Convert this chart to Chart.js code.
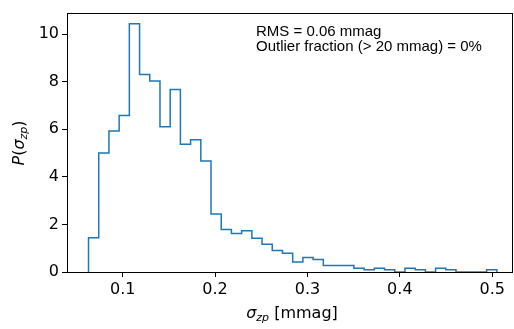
<!DOCTYPE html>
<html>
<head>
<meta charset="utf-8">
<script src="https://cdn.jsdelivr.net/npm/chart.js@4.4.1/dist/chart.umd.min.js"></script>
<style>
  html, body { margin: 0; padding: 0; background: #fff; }
  #wrap { width: 514px; height: 329px; }
</style>
</head>
<body>
<div id="wrap"><canvas id="histChart" width="514" height="329"></canvas></div>
<script>
// histogram of sigma_zp, 40 bins, density normalised
const binStart = 0.063;
const binWidth = 0.01105;
const density = [
  1.44, 5.00, 5.93, 6.58, 10.43, 8.30, 8.03, 6.10, 7.67, 5.37,
  5.56, 4.66, 2.44, 1.79, 1.62, 1.73, 1.42, 1.17, 0.90, 0.79,
  0.42, 0.61, 0.52, 0.27, 0.27, 0.27, 0.16, 0.09, 0.16, 0.09,
  0.00, 0.16, 0.09, 0.00, 0.16, 0.09, 0.00, 0.00, 0.00, 0.09
];
const xTicks = [0.1, 0.2, 0.3, 0.4, 0.5];
const yTicks = [0, 2, 4, 6, 8, 10];
const notes = ['RMS = 0.06 mmag', 'Outlier fraction (> 20 mmag) = 0%'];

// step outline like matplotlib histtype='step'
var points = [{x: binStart, y: 0}];
density.forEach(function(d, i){
    points.push({x: binStart + i * binWidth, y: d});
});
var lastEdge = binStart + density.length * binWidth;
points.push({x: lastEdge, y: density[density.length - 1]});
points.push({x: lastEdge, y: 0});

const tickFont = {family: 'DejaVu Sans', size: 16};

var extras = {
    id: 'extras',
    afterDraw: function(chart){
        var ctx = chart.ctx;
        var a = chart.chartArea;
        ctx.save();
        // frame
        ctx.strokeStyle = '#000';
        ctx.lineWidth = 1;
        ctx.strokeRect(Math.round(a.left) + 0.5, Math.round(a.top) + 0.5,
                       Math.round(a.right - a.left) - 1, Math.round(a.bottom - a.top));
        ctx.fillStyle = '#000';
        // annotation
        ctx.font = '15px "Liberation Sans", Arial, sans-serif';
        ctx.textBaseline = 'alphabetic';
        ctx.textAlign = 'left';
        ctx.fillText(notes[0], 256, 35.5);
        ctx.fillText(notes[1], 256, 51);
        // x title
        var s1 = 'σ', sub = 'zp', rest = ' [mmag]';
        ctx.font = 'italic 16px "DejaVu Sans"';
        var w1 = ctx.measureText(s1).width;
        ctx.font = 'italic 11px "DejaVu Sans"';
        var w2 = ctx.measureText(sub).width;
        ctx.font = '16px "DejaVu Sans"';
        var w3 = ctx.measureText(rest).width;
        var x0 = 292 - (w1 + w2 + w3) / 2;
        var yb = 318;
        ctx.font = 'italic 16px "DejaVu Sans"';
        ctx.fillText(s1, x0, yb);
        ctx.font = 'italic 11px "DejaVu Sans"';
        ctx.fillText(sub, x0 + w1, yb + 3);
        ctx.font = '16px "DejaVu Sans"';
        ctx.fillText(rest, x0 + w1 + w2, yb);
        // y title, rotated
        ctx.translate(24, 143);
        ctx.rotate(-Math.PI / 2);
        var p1 = 'P', p2 = '(', p3 = 'σ', p4 = 'zp', p5 = ')';
        ctx.font = 'italic 16px "DejaVu Sans"';
        var a1 = ctx.measureText(p1).width, a3 = ctx.measureText(p3).width;
        ctx.font = '16px "DejaVu Sans"';
        var a2 = ctx.measureText(p2).width, a5 = ctx.measureText(p5).width;
        ctx.font = 'italic 11px "DejaVu Sans"';
        var a4 = ctx.measureText(p4).width;
        var tx = -(a1 + a2 + a3 + a4 + a5) / 2;
        ctx.font = 'italic 16px "DejaVu Sans"';
        ctx.fillText(p1, tx, 0); tx += a1;
        ctx.font = '16px "DejaVu Sans"';
        ctx.fillText(p2, tx, 0); tx += a2;
        ctx.font = 'italic 16px "DejaVu Sans"';
        ctx.fillText(p3, tx, 0); tx += a3;
        ctx.font = 'italic 11px "DejaVu Sans"';
        ctx.fillText(p4, tx, 3); tx += a4;
        ctx.font = '16px "DejaVu Sans"';
        ctx.fillText(p5, tx, 0);
        ctx.restore();
    }
};

var ctx = document.getElementById('histChart').getContext('2d');
new Chart(ctx, {
    type: 'line',
    data: {
        datasets: [{
            data: points,
            stepped: 'before',
            borderColor: '#1f77b4',
            borderWidth: 1.5,
            pointRadius: 0,
            fill: false
        }]
    },
    options: {
        responsive: false,
        animation: false,
        layout: {padding: {top: 4, right: 1, left: 0, bottom: 0}},
        plugins: {legend: {display: false}, tooltip: {enabled: false}},
        scales: {
            x: {
                type: 'linear',
                min: 0.0397,
                max: 0.5225,
                afterBuildTicks: function(axis){
                    axis.ticks = xTicks.map(function(v){ return {value: v}; });
                },
                afterFit: function(axis){ axis.height = 57; },
                grid: {drawOnChartArea: false, color: '#000', tickLength: 5, tickWidth: 1},
                border: {display: false},
                ticks: {
                    color: '#000', font: tickFont, padding: 3, maxRotation: 0,
                    callback: function(v){ return v.toFixed(1); }
                }
            },
            y: {
                min: 0,
                max: 10.9,
                afterBuildTicks: function(axis){
                    axis.ticks = yTicks.map(function(v){ return {value: v}; });
                },
                afterFit: function(axis){ axis.width = 67; },
                grid: {drawOnChartArea: false, color: '#000', tickLength: 5, tickWidth: 1},
                border: {display: false},
                ticks: {color: '#000', font: tickFont, padding: 3}
            }
        }
    },
    plugins: [extras]
});
</script>
</body>
</html>
